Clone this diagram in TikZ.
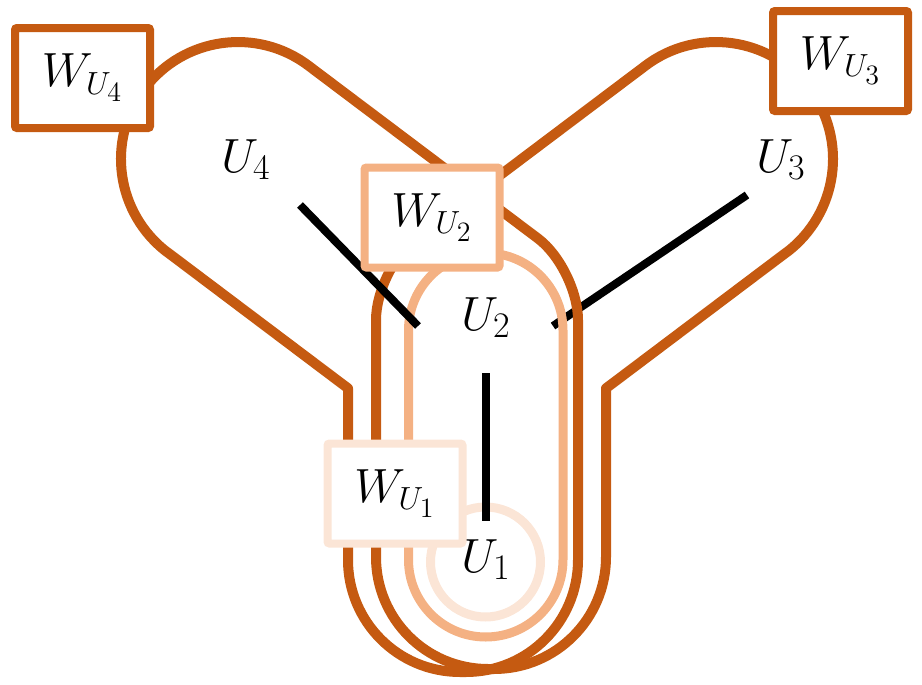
\RequirePackage{fix-cm}
\documentclass[tikz,border=0pt]{standalone}
\definecolor{dk}{HTML}{C55A11}
\definecolor{lt}{HTML}{F4B183}
\definecolor{ll}{HTML}{FBE5D6}
\tikzset{
  dkreg/.style={draw=dk, line width=5pt, line join=round},
  ltreg/.style={draw=lt, line width=4.5pt},
  llreg/.style={draw=ll, line width=4.5pt},
  wbox/.style={fill=white, line width=4pt, rounded corners=1pt,
    minimum width=67.5pt, minimum height=50pt, inner sep=0pt,
    font=\fontsize{24}{28}\selectfont},
  ulabel/.style={anchor=base west, inner sep=0pt, font=\fontsize{24}{28}\selectfont},
  tedge/.style={draw=black, line width=4pt}
}
\newcommand{\bigsub}[1]{\mbox{\fontsize{18}{18}\selectfont #1}}
\newcommand{\wlab}[1]{$W_{\mbox{\fontsize{16}{16}\selectfont$U_{\mbox{\fontsize{14}{14}\selectfont #1}}$}}$}
\begin{document}
\begin{tikzpicture}[x=0.5pt, y=-0.5pt]
\useasboundingbox (0,0) rectangle (922,685);

% tree edge ends
\coordinate (u3e) at (747,195);
\coordinate (u2r) at (553,326);
\coordinate (u4e) at (300,205);
\coordinate (u2l) at (418,326);
\coordinate (u2b) at (486,373);
\coordinate (u1t) at (486,521);

\draw[tedge] (u3e) -- (u2r);

% region W_U4 (left arm + stem)
\draw[dkreg] (167.6,252.4) -- (348,388.3) -- (348,560)
  arc[start angle=180, end angle=90, radius=112] -- (466,672)
  arc[start angle=90, end angle=0, radius=112] -- (578,320)
  .. controls (578,292) and (560,255) .. (538,238.5) -- (308.4,65.6)
  arc[start angle=-53, end angle=-233, radius=117] -- cycle;

% region W_U3 (right arm + stem)
\draw[dkreg] (786.4,252.4) -- (606,388.3) -- (606,557)
  arc[start angle=0, end angle=90, radius=112] -- (488,669)
  arc[start angle=90, end angle=180, radius=112] -- (376,320)
  .. controls (376,292) and (394,255) .. (416,238.5) -- (645.6,65.6)
  arc[start angle=-127, end angle=53, radius=117] -- cycle;

% region W_U2
\draw[ltreg, rounded corners=38.625pt] (408.5,253) rectangle (563,637);

% region W_U1
\draw[llreg] (485.5,562) circle[radius=55];

\draw[tedge] (u4e) -- (u2l);
\draw[tedge] (u2b) -- (u1t);

% vertex labels
\node[ulabel] (U4) at (221,172) {$U_{\bigsub{4}}$};
\node[ulabel] (U3) at (756,172) {$U_{\bigsub{3}}$};
\node[ulabel] (U2) at (461,330) {$U_{\bigsub{2}}$};
\node[ulabel] (U1) at (461,572) {$U_{\bigsub{1}}$};

% region labels
\node[wbox, draw=dk] (W4) at (82.5,78) {\wlab{4}};
\node[wbox, draw=dk] (W3) at (840.5,61) {\wlab{3}};
\node[wbox, draw=lt] (W2) at (432,217.5) {\wlab{2}};
\node[wbox, draw=ll] (W1) at (395,493.5) {\wlab{1}};
\end{tikzpicture}
\end{document}
